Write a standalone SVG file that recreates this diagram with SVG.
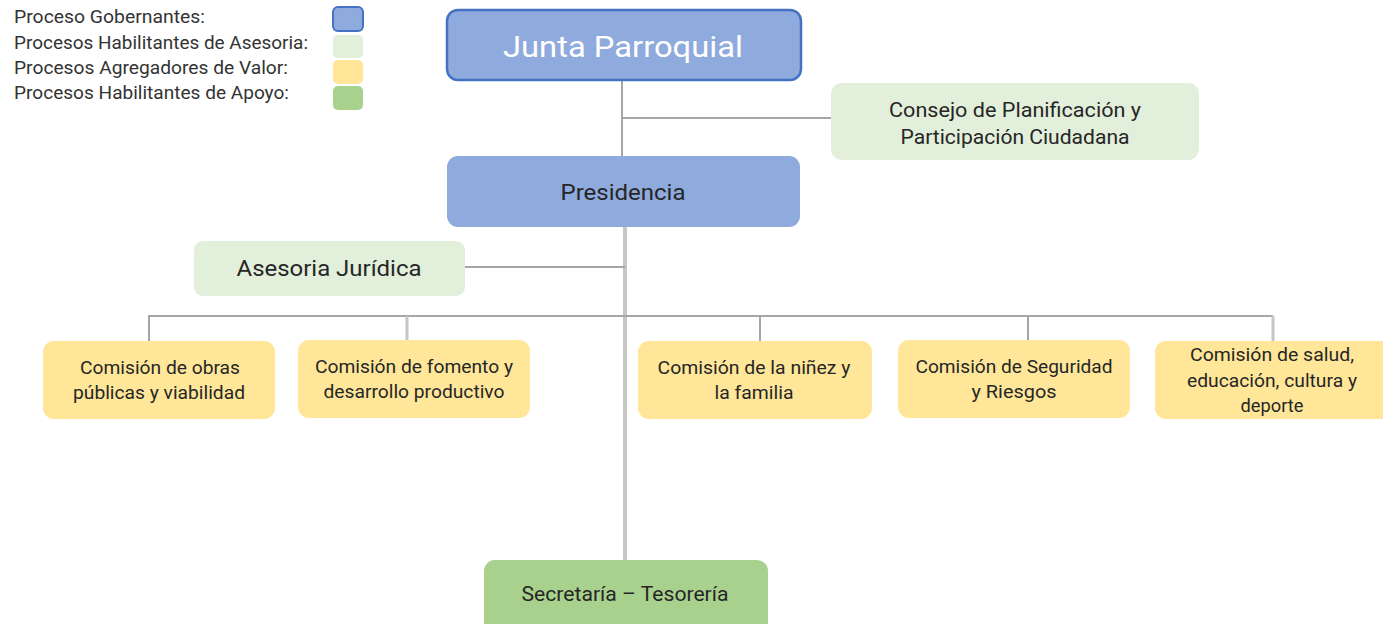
<svg xmlns="http://www.w3.org/2000/svg" width="1383" height="624" viewBox="0 0 1383 624">
<style>
text{font-family:Roboto,"Liberation Sans",sans-serif;text-anchor:middle;fill:#262626}
.leg{text-anchor:start;font-size:17.5px;fill:#333}
.gov{fill:#8faadc}
.ase{fill:#e2efda}
.agr{fill:#ffe699}
.apo{fill:#a9d18e}
.c{stroke:#a6a6a6;stroke-width:2;fill:none}
.v{stroke:#c6c6c6;stroke-width:4;fill:none}
.s{font-size:18px}
</style>
<rect width="1383" height="624" fill="#fff"/>
<g id="legend">
<text class="leg" x="14" y="23" textLength="191" lengthAdjust="spacingAndGlyphs">Proceso Gobernantes:</text>
<text class="leg" x="14" y="49" textLength="294" lengthAdjust="spacingAndGlyphs">Procesos Habilitantes de Asesoria:</text>
<text class="leg" x="14" y="74" textLength="274" lengthAdjust="spacingAndGlyphs">Procesos Agregadores de Valor:</text>
<text class="leg" x="14" y="99" textLength="275" lengthAdjust="spacingAndGlyphs">Procesos Habilitantes de Apoyo:</text>
<rect x="333" y="7" width="30" height="24" rx="5" class="gov" stroke="#4472c4" stroke-width="2"/>
<rect x="333" y="35" width="30" height="23" rx="5" class="ase"/>
<rect x="333" y="60" width="30" height="24" rx="5" class="agr"/>
<rect x="333" y="86" width="30" height="24" rx="5" class="apo"/>
</g>
<g id="connectors">
<path class="c" d="M622 80V156M622 118H831"/>
<path class="v" d="M625 227V560"/>
<path class="c" d="M465 267H625"/>
<path class="c" d="M149 342V316H1273"/>
<path class="v" d="M407 316V341M1273 316V342" style="stroke-width:3"/>
<path class="c" d="M760 316V342M1028 316V341"/>
</g>
<g id="junta">
<rect x="447" y="10" width="354" height="70" rx="11" class="gov" stroke="#4472c4" stroke-width="2.5"/>
<text x="623" y="57" font-size="30" textLength="240" lengthAdjust="spacingAndGlyphs" style="fill:#fff">Junta Parroquial</text>
</g>
<g id="consejo">
<rect x="831" y="83" width="368" height="77" rx="11" class="ase"/>
<text x="1015" y="117" font-size="20" textLength="252" lengthAdjust="spacingAndGlyphs">Consejo de Planificación  y</text>
<text x="1015" y="144" font-size="20" textLength="229" lengthAdjust="spacingAndGlyphs">Participación  Ciudadana</text>
</g>
<g id="presidencia">
<rect x="447" y="156" width="353" height="71" rx="11" class="gov"/>
<text x="623" y="200" font-size="22" textLength="125" lengthAdjust="spacingAndGlyphs">Presidencia</text>
</g>
<g id="asesoria">
<rect x="194" y="241" width="271" height="55" rx="9" class="ase"/>
<text x="329" y="276" font-size="22" textLength="185" lengthAdjust="spacingAndGlyphs">Asesoria Jurídica</text>
</g>
<g id="obras">
<rect x="43" y="341" width="232" height="78" rx="11" class="agr"/>
<text class="s" x="160" y="374" textLength="160" lengthAdjust="spacingAndGlyphs">Comisión de obras</text>
<text class="s" x="159" y="399" textLength="172" lengthAdjust="spacingAndGlyphs">públicas y viabilidad</text>
</g>
<g id="fomento">
<rect x="298" y="340" width="232" height="78" rx="11" class="agr"/>
<text class="s" x="414" y="373" textLength="198" lengthAdjust="spacingAndGlyphs">Comisión de fomento y</text>
<text class="s" x="414" y="398" textLength="181" lengthAdjust="spacingAndGlyphs">desarrollo productivo</text>
</g>
<g id="ninez">
<rect x="638" y="341" width="234" height="78" rx="11" class="agr"/>
<text class="s" x="754" y="374" textLength="193" lengthAdjust="spacingAndGlyphs">Comisión de la niñez y</text>
<text class="s" x="754" y="399" textLength="79" lengthAdjust="spacingAndGlyphs">la  familia</text>
</g>
<g id="seguridad">
<rect x="898" y="340" width="232" height="78" rx="11" class="agr"/>
<text class="s" x="1014" y="373" textLength="197" lengthAdjust="spacingAndGlyphs">Comisión de Seguridad</text>
<text class="s" x="1014" y="398" textLength="85" lengthAdjust="spacingAndGlyphs">y Riesgos</text>
</g>
<g id="salud">
<rect x="1155" y="341" width="240" height="78" rx="11" class="agr"/>
<text class="s" x="1272" y="361" textLength="164" lengthAdjust="spacingAndGlyphs">Comisión de salud,</text>
<text class="s" x="1272" y="387" textLength="170" lengthAdjust="spacingAndGlyphs">educación, cultura y</text>
<text class="s" x="1272" y="412" textLength="63" lengthAdjust="spacingAndGlyphs">deporte</text>
</g>
<g id="secretaria">
<rect x="484" y="560" width="284" height="74" rx="11" class="apo"/>
<text x="625" y="601" font-size="20" textLength="207" lengthAdjust="spacingAndGlyphs">Secretaría  – Tesorería</text>
</g>
</svg>
